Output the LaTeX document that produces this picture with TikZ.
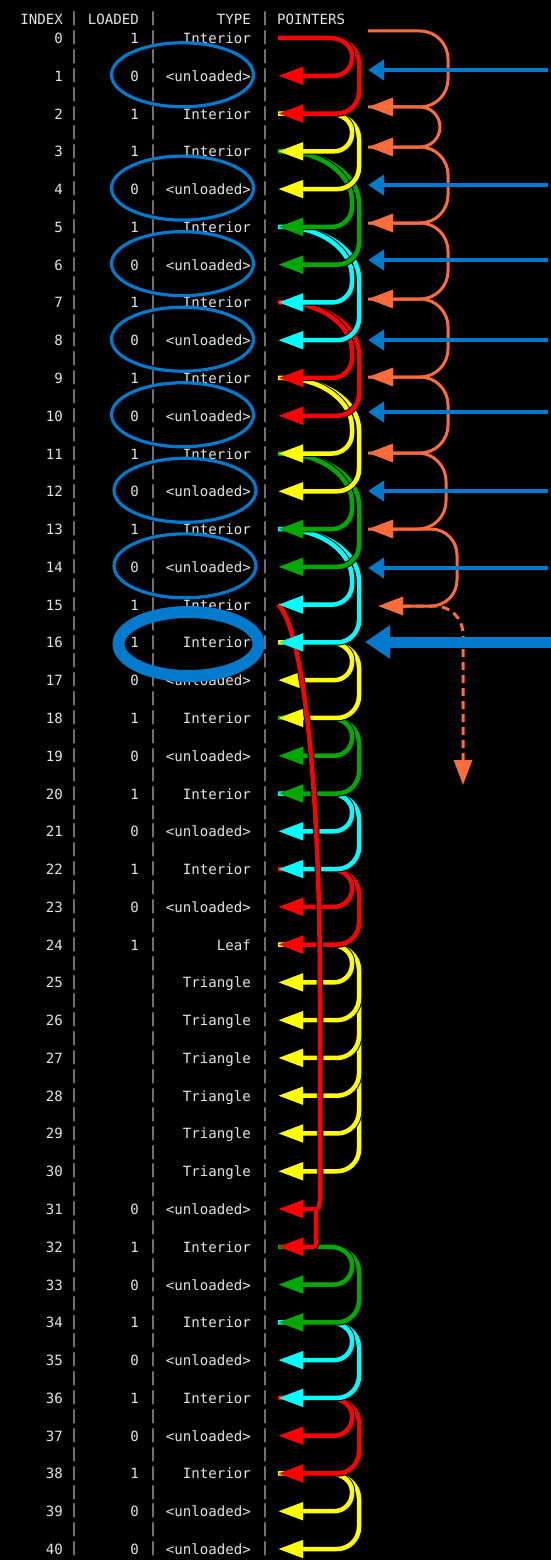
\documentclass[tikz,border=0pt]{standalone}
\usepackage{fontspec}
\setmonofont{DejaVu Sans Mono}
\usetikzlibrary{arrows.meta,calc}

\definecolor{termbg}{RGB}{0,0,0}
\definecolor{termfg}{RGB}{228,228,228}
\definecolor{barfg}{RGB}{190,190,190}
\definecolor{pred}{RGB}{255,0,0}
\definecolor{pyellow}{RGB}{255,255,0}
\definecolor{pgreen}{RGB}{0,168,0}
\definecolor{pcyan}{RGB}{0,255,255}
\definecolor{porange}{RGB}{255,108,60}
\definecolor{pblue}{RGB}{0,122,204}

% pointer bracket: colour, from, to, column, first corner x/y radius, last corner radius
\newcommand\bkt[7]{%
  \draw[ptrline,color=#1] (#2) -- ($(#2 -| #4)+(-#5,0)$)
    arc[start angle=-90,end angle=0,x radius=#5,y radius=#6]
    -- ($(#3 -| #4)+(0,-#7)$)
    arc[start angle=0,end angle=90,radius=#7] -- (#3);}
% orange chain bracket: from, to, column, radius
\newcommand\obkt[4]{%
  \draw[oline] (#1) -- ($(#1 -| #3)+(-#4,0)$)
    arc[start angle=-90,end angle=0,radius=#4]
    -- ($(#2 -| #3)+(0,-#4)$)
    arc[start angle=0,end angle=90,radius=#4] -- (#2);}

\begin{document}
\begin{tikzpicture}[x=1pt,y=-1pt,
  font=\ttfamily\fontsize{14.1pt}{17pt}\selectfont,
  cell/.style={text=termfg,inner sep=0pt,anchor=base east},
  bar/.style={text=barfg,inner sep=0pt,anchor=base},
  ring/.style={draw=pblue,line width=3.2pt},
  ptrline/.style={line width=4.5pt,-{Triangle[length=25pt,width=17pt]},
    preaction={draw=termbg,line width=6.5pt}},
  oline/.style={draw=porange,line width=3pt,-{Triangle[length=25pt,width=18pt]}},
  bline/.style={draw=pblue,line width=4pt,-{Triangle[length=16pt,width=20pt]}},
  bigline/.style={draw=pblue,line width=11pt,-{Triangle[length=25pt,width=32pt]}}]

\fill[termbg] (0,0) rectangle (551,1560);
\useasboundingbox (0,0) rectangle (551,1560);

% column separators, one per text line
\foreach \k in {0,...,81}{
  \pgfmathsetmacro\yp{19.11+18.8875*\k+3.7}
  \node[bar] (bara\k) at (74,\yp) {|};
  \node[bar] (barb\k) at (153,\yp) {|};
  \node[bar] (barc\k) at (265,\yp) {|};
}

% header
\node[cell] (hidx) at (63,24.6) {INDEX};
\node[cell] (hld) at (139,24.6) {LOADED};
\node[cell] (hty) at (251,24.6) {TYPE};
\node[cell,anchor=base west] (hptr) at (277,24.6) {POINTERS};

% table rows
\foreach \i/\ld/\ty in {0/1/Interior,1/0/<unloaded>,2/1/Interior,3/1/Interior,
  4/0/<unloaded>,5/1/Interior,6/0/<unloaded>,7/1/Interior,8/0/<unloaded>,
  9/1/Interior,10/0/<unloaded>,11/1/Interior,12/0/<unloaded>,13/1/Interior,
  14/0/<unloaded>,15/1/Interior,16/1/Interior,17/0/<unloaded>,18/1/Interior,
  19/0/<unloaded>,20/1/Interior,21/0/<unloaded>,22/1/Interior,23/0/<unloaded>,
  24/1/Leaf,25//Triangle,26//Triangle,27//Triangle,28//Triangle,29//Triangle,
  30//Triangle,31/0/<unloaded>,32/1/Interior,33/0/<unloaded>,34/1/Interior,
  35/0/<unloaded>,36/1/Interior,37/0/<unloaded>,38/1/Interior,39/0/<unloaded>,
  40/0/<unloaded>}{
  \pgfmathsetmacro\yb{38+37.775*\i+5.5}
  \node[cell] (idx\i) at (63,\yb) {\i};
  \node[cell] (ld\i) at (139,\yb) {\ld};
  \node[cell] (ty\i) at (251,\yb) {\ty};
  \pgfmathsetmacro\yc{38+37.775*\i}
  \coordinate (p\i) at (278,\yc);
}

% rings round unloaded nodes
\foreach \cx/\r in {182.5/1,182.5/4,182.5/6,182.5/8,182.5/10,185/12,185/14}{
  \pgfmathsetmacro\cy{38+37.775*\r-1}
  \draw[ring] (\cx,\cy) ellipse [x radius=71,y radius=32];
}
\draw[ring,line width=12pt] (188.5,644) ellipse [x radius=70,y radius=32];

% bracket columns
\coordinate (vin) at (352,0);
\coordinate (vout) at (359,0);
\coordinate (rcolA) at (320,0);
\coordinate (rcolB) at (318,0);
\coordinate (rcolC) at (316,0);

% children right below the parent
\foreach \c/\i/\a/\b in {pyellow/38/39/40,pred/36/37/38,pcyan/34/35/36,
  pgreen/32/33/34}{
  \bkt{\c}{p\i}{p\b}{vout}{29}{25}{22}
  \bkt{\c}{p\i}{p\a}{vin}{22}{18}{18}
}
% leaf with six triangles
\foreach \j in {30,29,28,27,26}{
  \bkt{pyellow}{p24}{p\j}{vout}{29}{25}{22}
}
\bkt{pyellow}{p24}{p25}{vin}{22}{18}{18}
\foreach \c/\i/\a/\b in {pred/22/23/24,pcyan/20/21/22,pgreen/18/19/20,
  pyellow/16/17/18}{
  \bkt{\c}{p\i}{p\b}{vout}{29}{25}{22}
  \bkt{\c}{p\i}{p\a}{vin}{22}{18}{18}
}
% long pointer from 15 down to 31 and 32
\draw[ptrline,color=pred] (p15) .. controls ($(p15)+(22,20)$) and ($(p15)+(42,155)$)
  .. ($(p15)+(42,395)$) -- ($(p31 -| rcolA)+(0,-8)$) -- (p31 -| rcolB) -- (p31);
\draw[ptrline,color=pred,rounded corners=3pt] (p31 -| rcolC) -- (p32 -| rcolC) -- (p32);
% children two rows below the parent
\foreach \c/\i/\a/\b in {pcyan/13/15/16,pgreen/11/13/14,pyellow/9/11/12,
  pred/7/9/10,pcyan/5/7/8,pgreen/3/5/6}{
  \bkt{\c}{p\i}{p\b}{vout}{77}{52}{22}
  \bkt{\c}{p\i}{p\a}{vin}{70}{50}{20}
}
\foreach \c/\i/\a/\b in {pyellow/2/3/4,pred/0/1/2}{
  \bkt{\c}{p\i}{p\b}{vout}{29}{25}{22}
  \bkt{\c}{p\i}{p\a}{vin}{22}{18}{18}
}

% orange chain
\coordinate (o0) at (368,31);
\coordinate (o1) at (368,107);
\coordinate (o2) at (368,147);
\coordinate (o3) at (368,223);
\coordinate (o4) at (368,299);
\coordinate (o5) at (368,377);
\coordinate (o6) at (368,453);
\coordinate (o7) at (368,529);
\coordinate (o8) at (378,606);
\coordinate (ob) at (448,0);
\coordinate (os) at (440,0);
\coordinate (om) at (446,0);
\coordinate (ol) at (457,0);
\coordinate (dcol) at (463,0);
\coordinate (dend) at (463,785);
\obkt{o0}{o1}{ob}{28}
\obkt{o1}{o2}{os}{20}
\obkt{o2}{o3}{ob}{28}
\obkt{o3}{o4}{ob}{28}
\obkt{o4}{o5}{ob}{28}
\obkt{o5}{o6}{ob}{28}
\obkt{o6}{o7}{om}{28}
\obkt{o7}{o8}{ol}{26}
\draw[oline,dash pattern=on 8pt off 5pt] ($(o8)+(25,0)$) -- ($(o8 -| dcol)+(-28,0)$)
  arc[start angle=-90,end angle=0,radius=28] -- (dend);

% blue arrows
\foreach \k/\y in {1/70,2/185,3/260,4/340,5/412,6/491,7/568}{
  \coordinate (bs\k) at (548,\y);
  \coordinate (bt\k) at (368,\y);
  \draw[bline] (bs\k) -- (bt\k);
}
\coordinate (bs8) at (551,642);
\coordinate (bt8) at (365,642);
\draw[bigline] (bs8) -- (bt8);
\end{tikzpicture}
\end{document}
